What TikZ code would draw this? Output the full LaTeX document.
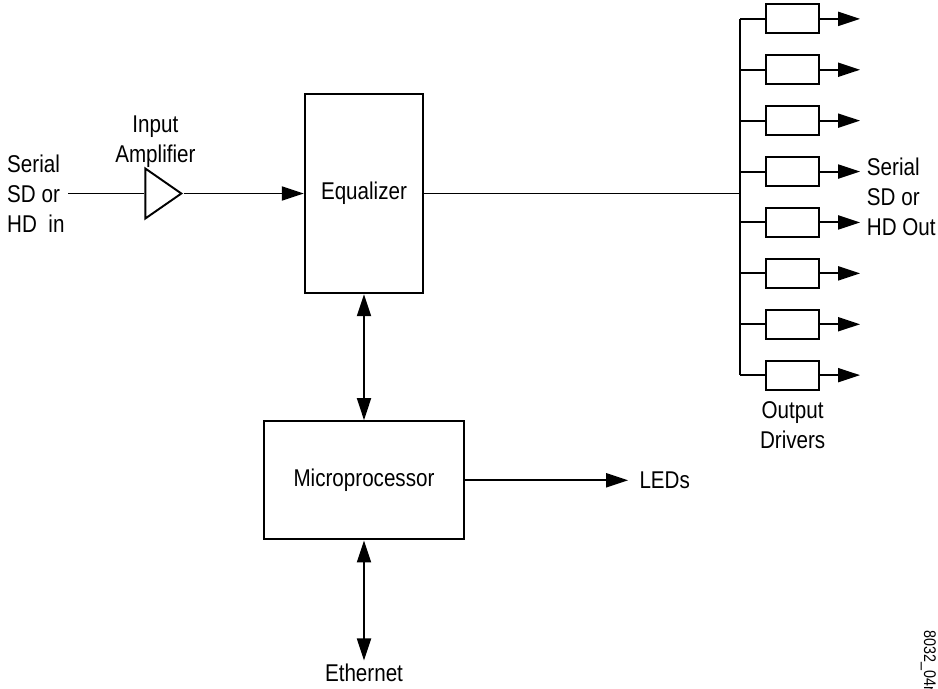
\documentclass[tikz,border=0pt]{standalone}
\usepackage{fontspec}
\setmainfont{Liberation Sans}[FakeStretch=0.85]
\usetikzlibrary{shapes.geometric, arrows.meta, positioning, calc}
\newcommand{\lblsize}{\fontsize{13.8}{17}\selectfont}
\newcommand{\idsize}{\fontsize{9.6}{11}\selectfont}
\tikzset{
  base/.style   = {draw=black, line width=1.3pt, align=center, font=\lblsize},
  block/.style  = {base, fill=white},
  driver/.style = {draw=black, line width=1.1pt, fill=white, inner sep=0pt,
                   minimum width=1.06cm, minimum height=0.58cm},
  ampl/.style   = {draw=black, line width=1.1pt, fill=white, isosceles triangle,
                   isosceles triangle stretches, inner sep=0pt,
                   minimum width=1.0cm, minimum height=0.72cm},
  txt/.style    = {font=\lblsize, inner sep=2pt},
  wire/.style   = {line width=1.1pt},
  arr/.style    = {-{Triangle[length=0.44cm, width=0.28cm]}, line width=1.1pt},
  darr/.style   = {{Triangle[length=0.44cm, width=0.28cm]}-{Triangle[length=0.44cm, width=0.28cm]},
                   line width=1.1pt},
}
\begin{document}
\begin{tikzpicture}[node distance=0.5cm and 0.5cm]
  \useasboundingbox (0,0) rectangle (18.76,-13.76);

  \node[block, minimum width=2.36cm, minimum height=3.98cm] (eq) at (7.28,-3.87) {Equalizer};
  \node[ampl, left=2.4cm of eq] (amp) {};
  \node[txt, align=left, left=1.52cm of amp] (inp) {Serial\\SD or\\HD\ \ in};
  \node[txt, align=center, above=0.1cm of amp, xshift=-0.06cm] (amplbl) {Input\\Amplifier};
  \node[block, minimum width=4.0cm, minimum height=2.36cm, below=2.52cm of eq] (mpu) {Microprocessor};
  \node[txt, inner xsep=0.22cm, right=3.26cm of mpu] (leds) {LEDs};
  \node[txt, below=2.4cm of mpu] (eth) {Ethernet};

  % output bus and the eight drivers
  \coordinate[right=6.32cm of eq] (bus);
  \foreach \i in {1,...,8} {
    \node[driver] (drv\i) at ($(bus)+(1.05,{(4.5-\i)*1.018-0.07})$) {};
    \coordinate (tap\i) at (bus |- drv\i);
    \coordinate (out\i) at ($(drv\i.east)+(0.8,0)$);
  }
  \node[txt, align=left, anchor=west] (sdout) at ($(out4)!0.5!(out5)+(0.06,0)$) {Serial\\SD or\\HD Out};
  \node[txt, align=center, below=0.15cm of drv8] (drvlbl) {Output\\Drivers};
  \node[rotate=-90, anchor=base west, inner sep=0pt, font=\idsize] (figid) at (18.48,-12.6) {8032\_04r};

  \draw[wire] (inp) -- (amp);
  \draw[arr] (amp) -- (eq);
  \draw[wire] (eq) -- (bus);
  \draw[wire] (tap1) -- (tap8);
  \foreach \i in {1,...,8} {
    \draw[wire] (tap\i) -- (drv\i);
    \draw[arr] (drv\i) -- (out\i);
  }
  \draw[darr] (eq) -- (mpu);
  \draw[arr] (mpu) -- (leds);
  \draw[darr] (mpu) -- (eth);
\end{tikzpicture}
\end{document}
